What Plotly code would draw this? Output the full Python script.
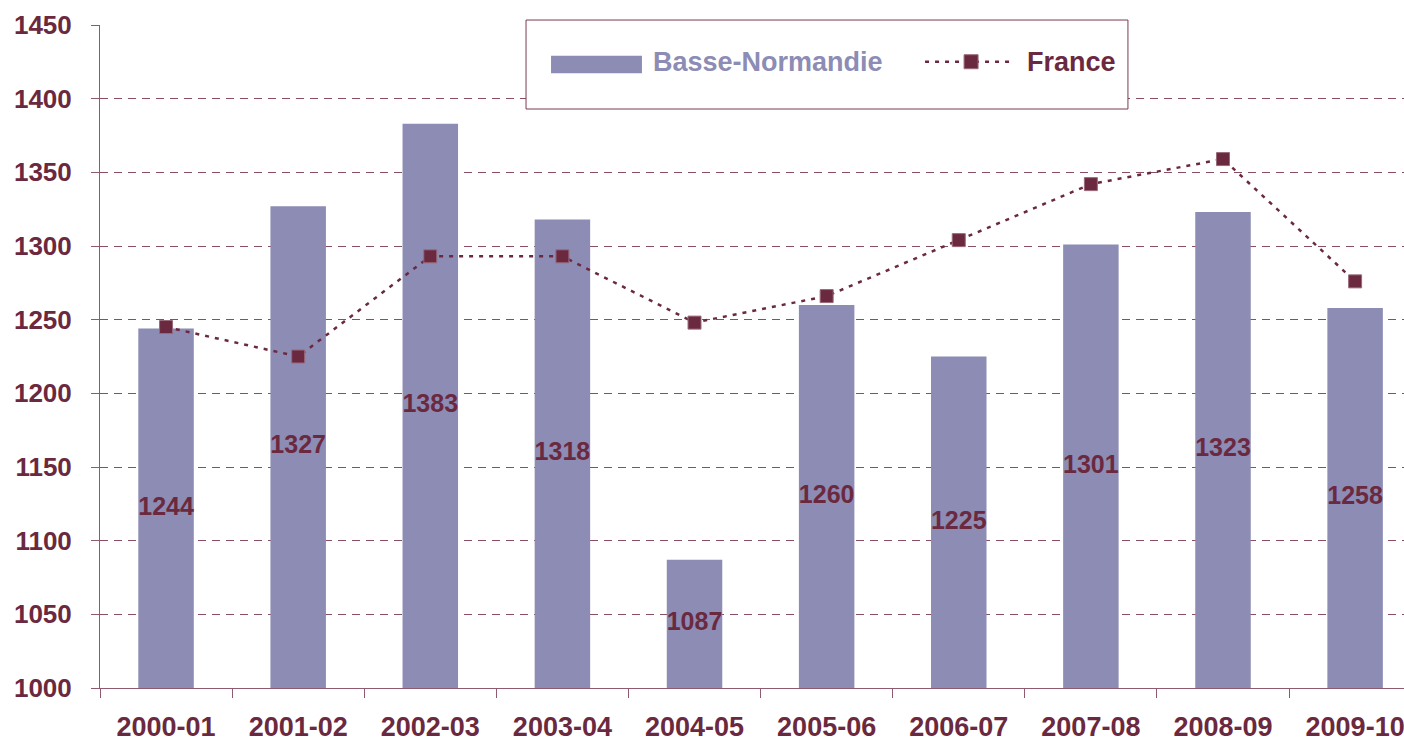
import plotly.graph_objects as go

# school years on the category axis
years = ['2000-01', '2001-02', '2002-03', '2003-04', '2004-05',
         '2005-06', '2006-07', '2007-08', '2008-09', '2009-10']
basse_normandie = [1244, 1327, 1383, 1318, 1087, 1260, 1225, 1301, 1323, 1258]
france = [1245, 1225, 1293, 1293, 1248, 1266, 1304, 1342, 1359, 1276]
y_ticks = [1000, 1050, 1100, 1150, 1200, 1250, 1300, 1350, 1400, 1450]

BAR_COLOR = '#8C8CB4'
MAROON = '#6B2940'
AXIS_COLOR = '#8F5A6E'
GRID_COLOR = '#8A4E64'
FONT = 'Liberation Sans, Arial, sans-serif'
Y_BASE = 1000

fig = go.Figure()

fig.add_trace(go.Bar(
    x=years, y=[v - Y_BASE for v in basse_normandie], base=Y_BASE,
    name='Basse-Normandie', marker=dict(color=BAR_COLOR, line=dict(width=0)),
    width=0.42, showlegend=False,
))

fig.add_trace(go.Scatter(
    x=years, y=france, name='France', mode='lines+markers',
    line=dict(color=MAROON, width=2.5, dash='4px,6px'),
    marker=dict(symbol='square', size=13, color=MAROON,
                line=dict(color='#9A6A7C', width=1)),
    showlegend=False,
))

# value labels centred in each bar
fig.add_trace(go.Scatter(
    x=years, y=[(Y_BASE + v) / 2 for v in basse_normandie],
    text=[str(v) for v in basse_normandie], mode='text',
    textfont=dict(family=FONT, size=25, color=MAROON, weight='bold'),
    showlegend=False, cliponaxis=False, hoverinfo='skip',
))

fig.update_layout(
    width=1404, height=741,
    margin=dict(l=100, r=0, t=25, b=53),
    paper_bgcolor='white', plot_bgcolor='white',
    font=dict(family=FONT, color=MAROON),
    xaxis=dict(
        type='category', range=[-0.5, 9.37], automargin=False,
        showline=True, linecolor=AXIS_COLOR, linewidth=1,
        ticks='outside', tickson='boundaries', ticklen=9,
        tickcolor=AXIS_COLOR, tickwidth=1,
        tickfont=dict(family=FONT, size=27, color=MAROON, weight='bold'),
        ticklabelstandoff=15, showgrid=False,
    ),
    yaxis=dict(
        range=[1000, 1450], tickvals=y_ticks, automargin=False,
        showline=True, linecolor=AXIS_COLOR, linewidth=1,
        ticks='outside', ticklen=8, tickcolor=AXIS_COLOR, tickwidth=1,
        tickfont=dict(family=FONT, size=26, color=MAROON, weight='bold'),
        ticklabelstandoff=14,
        showgrid=True, gridcolor=GRID_COLOR, gridwidth=1, griddash='8px,6px',
        zeroline=False,
    ),
)

# hand-built legend box, as in the original
legend_y = 0.9446
fig.add_shape(type='rect', xref='paper', yref='paper',
              x0=0.3267, x1=0.7883, y0=0.8733, y1=1.0075,
              line=dict(color='#7A3A52', width=1), fillcolor='white')
fig.add_shape(type='rect', xref='paper', yref='paper',
              x0=0.3459, x1=0.4156, y0=0.9271, y1=0.9537,
              line=dict(width=0), fillcolor=BAR_COLOR)
fig.add_shape(type='line', xref='paper', yref='paper',
              x0=0.6327, x1=0.7002, y0=legend_y, y1=legend_y,
              line=dict(color=MAROON, width=2.5, dash='4px,6px'))
fig.add_shape(type='rect', xref='paper', yref='paper',
              xsizemode='pixel', ysizemode='pixel',
              xanchor=0.668, yanchor=legend_y, x0=-7, x1=7, y0=-7, y1=7,
              line=dict(color='#9A6A7C', width=1), fillcolor=MAROON)
fig.add_annotation(xref='paper', yref='paper', x=0.4225, y=legend_y,
                   xanchor='left', yanchor='middle', showarrow=False,
                   text='Basse-Normandie',
                   font=dict(family=FONT, size=27, color=BAR_COLOR, weight='bold'))
fig.add_annotation(xref='paper', yref='paper', x=0.7093, y=legend_y,
                   xanchor='left', yanchor='middle', showarrow=False,
                   text='France',
                   font=dict(family=FONT, size=27, color=MAROON, weight='bold'))

# drop the default 8px page margin so the figure fills the window exactly
fig.write_html('out.html', config={'displayModeBar': False},
               post_script="document.body.style.margin = '0';")
